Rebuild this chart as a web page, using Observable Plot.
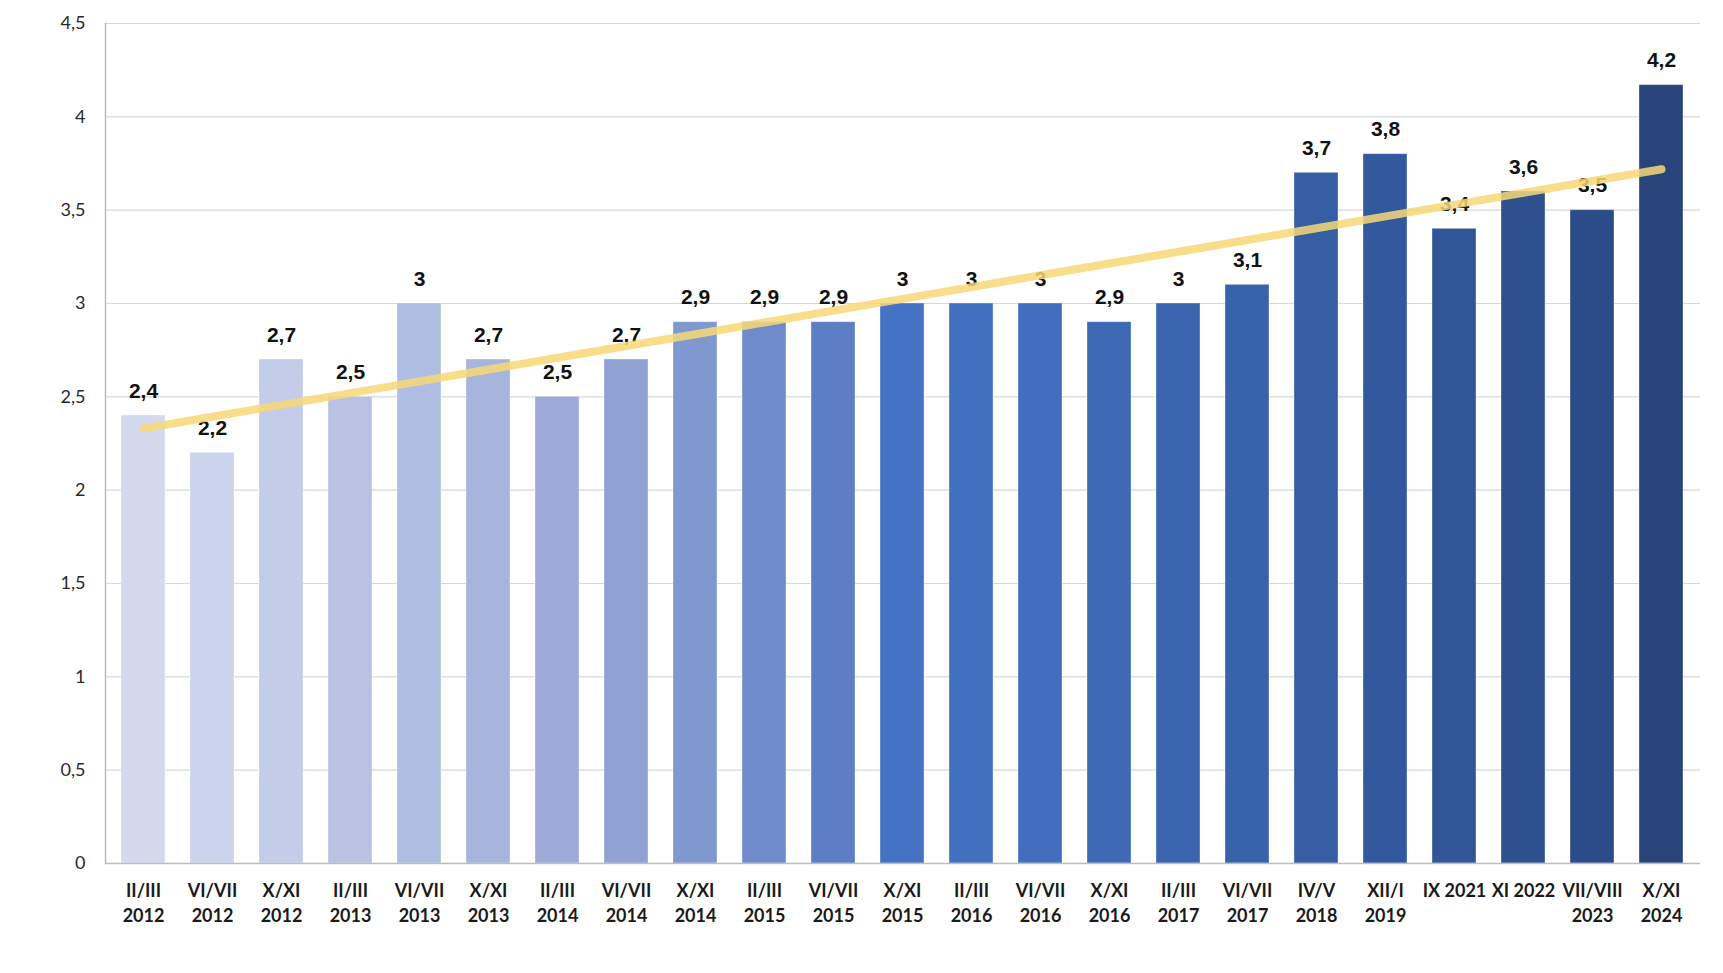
<!DOCTYPE html>
<html>
<head>
<meta charset="utf-8">
<script src="https://cdn.jsdelivr.net/npm/d3@7"></script>
<script src="https://cdn.jsdelivr.net/npm/@observablehq/plot@0.6"></script>
<style>
  html, body { margin: 0; padding: 0; background: #fff; }
  #chart svg { display: block; }
</style>
</head>
<body>
<div id="chart"></div>
<script>
const categories = [
  "II/III\n2012", "VI/VII\n2012", "X/XI\n2012", "II/III\n2013", "VI/VII\n2013", "X/XI\n2013",
  "II/III\n2014", "VI/VII\n2014", "X/XI\n2014", "II/III\n2015", "VI/VII\n2015", "X/XI\n2015",
  "II/III\n2016", "VI/VII\n2016", "X/XI\n2016", "II/III\n2017", "VI/VII\n2017", "IV/V\n2018",
  "XII/I\n2019", "IX 2021", "XI 2022", "VII/VIII\n2023", "X/XI\n2024"
];
// bar heights
const values = [2.4, 2.2, 2.7, 2.5, 3, 2.7, 2.5, 2.7, 2.9, 2.9, 2.9, 3, 3, 3, 2.9, 3, 3.1, 3.7, 3.8, 3.4, 3.6, 3.5, 4.17];
// data labels as printed
const labels = ["2,4", "2,2", "2,7", "2,5", "3", "2,7", "2,5", "2,7", "2,9", "2,9", "2,9", "3", "3", "3", "2,9", "3", "3,1", "3,7", "3,8", "3,4", "3,6", "3,5", "4,2"];
const colors = [
  "#d4daee", "#ccd3ec", "#c3cce8", "#b9c2e3", "#b0bde2", "#a7b4dc", "#9eaad9", "#8fa2d3",
  "#7f98cf", "#6f8bcc", "#5d7dc5", "#4472c4", "#4271c2", "#416ebe", "#3d69b5", "#3a64ae",
  "#3862a9", "#345da3", "#32599e", "#305698", "#2d508e", "#2b4c88", "#28447a"
];
const yTicks = [0, 0.5, 1, 1.5, 2, 2.5, 3, 3.5, 4, 4.5];

const fmt = v => String(v).replace(".", ",");
const data = categories.map((c, i) => ({cat: c, value: values[i], label: labels[i], color: colors[i], i}));

// least-squares trend line from the data (as in the spreadsheet's linear trendline)
const mx = d3.mean(data, d => d.i), my = d3.mean(data, d => d.value);
const slope = d3.sum(data, d => (d.i - mx) * (d.value - my)) / d3.sum(data, d => (d.i - mx) ** 2);
const trend = data.map(d => ({cat: d.cat, y: my + slope * (d.i - mx)}));

const chart = Plot.plot({
  width: 1723,
  height: 973,
  marginLeft: 105,
  marginRight: 23,
  marginTop: 23,
  marginBottom: 110,
  style: {fontFamily: "Lato, 'Liberation Sans', sans-serif", background: "#fff"},
  x: {domain: categories, paddingInner: 0.36, paddingOuter: 0.18},
  y: {domain: [0, 4.5]},
  marks: [
    Plot.gridY(yTicks, {stroke: "#d3d7e3", strokeOpacity: 1, strokeWidth: 1.2}),
    Plot.barY(data, {x: "cat", y: "value", fill: "color", stroke: "#ffffff", strokeOpacity: 0.35, strokeWidth: 1}),
    Plot.frame({anchor: "left", stroke: "#bcbcbc", strokeWidth: 1.5}),
    Plot.ruleY([0], {stroke: "#bcbcbc", strokeWidth: 1.5}),
    Plot.axisY({ticks: yTicks, tickSize: 0, tickPadding: 20, tickFormat: fmt, label: null,
      fontSize: 18, fill: "#2a2a2a"}),
    Plot.axisX({tickSize: 0, tickPadding: 15, label: null, fontSize: 18, fontWeight: "bold",
      fill: "#1a1a1a", lineHeight: 1.42, textOverflow: null}),
    Plot.text(data, {x: "cat", y: "value", text: "label", lineAnchor: "bottom", dy: -18,
      fontSize: 21, fontWeight: "bold", fontFamily: "'Liberation Sans', Arial, sans-serif", fill: "#111"}),
    Plot.line(trend, {x: "cat", y: "y", stroke: "#f7d877", strokeOpacity: 0.85, strokeWidth: 8,
      strokeLinecap: "round"})
  ]
});
document.getElementById("chart").appendChild(chart);
</script>
</body>
</html>
